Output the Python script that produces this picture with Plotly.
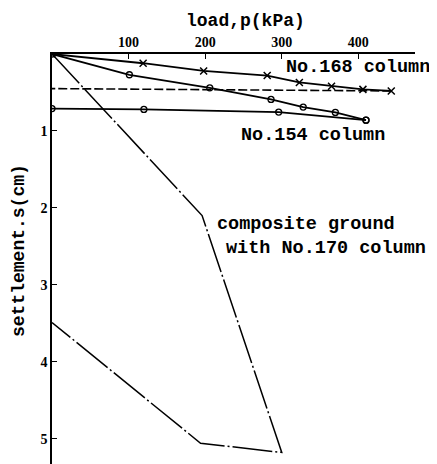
import plotly.graph_objects as go

# ---- data ----
p168_load = [0, 119, 198, 281, 323, 365, 406, 443]
s168_load = [0, 0.12, 0.22, 0.28, 0.37, 0.42, 0.46, 0.48]
p168_unload = [443, 0]
s168_unload = [0.48, 0.45]

p154_load = [0, 101, 206, 286, 328, 370, 410]
s154_load = [0, 0.27, 0.44, 0.59, 0.69, 0.76, 0.86]
p154_unload = [410, 296, 120, 0]
s154_unload = [0.86, 0.755, 0.72, 0.71]

p170 = [0, 196, 300, 194, 0]
s170 = [0, 2.10, 5.18, 5.06, 3.49]

x_ticks = [100, 200, 300, 400]
y_ticks = [1, 2, 3, 4, 5]

MONO = "Liberation Mono"
SERIF = "Liberation Serif"

# the page body adds an 8px margin, so the figure is 8px smaller than the window
OFF = 8
W, H = 437 - OFF, 464 - OFF
L, R, T, B = 52 - OFF, 22, 54 - OFF, 0

fig = go.Figure()

fig.add_trace(go.Scatter(x=p170, y=s170, mode="lines",
                         line=dict(color="black", width=1.5, dash="40px,3px,2px,3px"),
                         showlegend=False))
fig.add_trace(go.Scatter(x=p168_unload, y=s168_unload, mode="lines",
                         line=dict(color="black", width=1.6, dash="9px,3px"),
                         showlegend=False))
fig.add_trace(go.Scatter(x=p168_load, y=s168_load, mode="lines+markers",
                         line=dict(color="black", width=1.8),
                         marker=dict(symbol="x-thin-open", size=7,
                                     line=dict(color="black", width=1.5)),
                         showlegend=False))
fig.add_trace(go.Scatter(x=p154_load, y=s154_load, mode="lines+markers",
                         line=dict(color="black", width=1.8),
                         marker=dict(symbol="circle-open", size=6, color="black",
                                     line=dict(color="black", width=1.3)),
                         showlegend=False))
fig.add_trace(go.Scatter(x=p154_unload, y=s154_unload, mode="lines+markers",
                         line=dict(color="black", width=1.8),
                         marker=dict(symbol="circle-open", size=6, color="black",
                                     line=dict(color="black", width=1.3)),
                         showlegend=False))

ann_font = dict(family=MONO, size=18.5, color="black", weight="bold")
fig.add_annotation(x=303, y=0.18, xref="x", yref="y", text="No.168 column",
                   showarrow=False, xanchor="left", yanchor="middle", font=ann_font)
fig.add_annotation(x=244, y=1.06, xref="x", yref="y", text="No.154 column",
                   showarrow=False, xanchor="left", yanchor="middle", font=ann_font)
fig.add_annotation(x=213, y=2.21, xref="x", yref="y", text="composite ground",
                   showarrow=False, xanchor="left", yanchor="middle", font=ann_font)
fig.add_annotation(x=224, y=2.53, xref="x", yref="y", text="with No.170 column",
                   showarrow=False, xanchor="left", yanchor="middle", font=ann_font)

# axis titles placed as paper annotations for exact positioning
pw, ph = W - L - R, H - T - B
fig.add_annotation(x=(245 - OFF - L) / pw, y=(H - B - (21 - OFF)) / ph,
                   xref="paper", yref="paper",
                   text="load,p(kPa)", showarrow=False, xanchor="center", yanchor="middle",
                   font=dict(family=MONO, size=18, color="black", weight="bold"))
fig.add_annotation(x=(19 - OFF - L) / pw, y=(H - B - (251 - OFF)) / ph,
                   xref="paper", yref="paper",
                   text="settlement.s(cm)", showarrow=False, textangle=-90,
                   xanchor="center", yanchor="middle",
                   font=dict(family=MONO, size=18, color="black", weight="bold"))

fig.update_layout(
    width=W, height=H,
    margin=dict(l=L, r=R, t=T, b=B, autoexpand=False),
    paper_bgcolor="white", plot_bgcolor="white",
    xaxis=dict(side="top", range=[0, 474], tickvals=x_ticks, automargin=False,
               ticks="inside", ticklen=5, tickwidth=1.3, tickcolor="black",
               showline=True, linecolor="black", linewidth=1.6,
               showgrid=False, zeroline=False,
               tickfont=dict(family=SERIF, size=14, color="black", weight="bold")),
    yaxis=dict(range=[5.33, 0], tickvals=y_ticks, automargin=False,
               ticks="inside", ticklen=5, tickwidth=1.3, tickcolor="black",
               showline=True, linecolor="black", linewidth=1.6,
               showgrid=False, zeroline=False,
               tickfont=dict(family=SERIF, size=14, color="black", weight="bold")),
)

fig.write_html("out.html")
